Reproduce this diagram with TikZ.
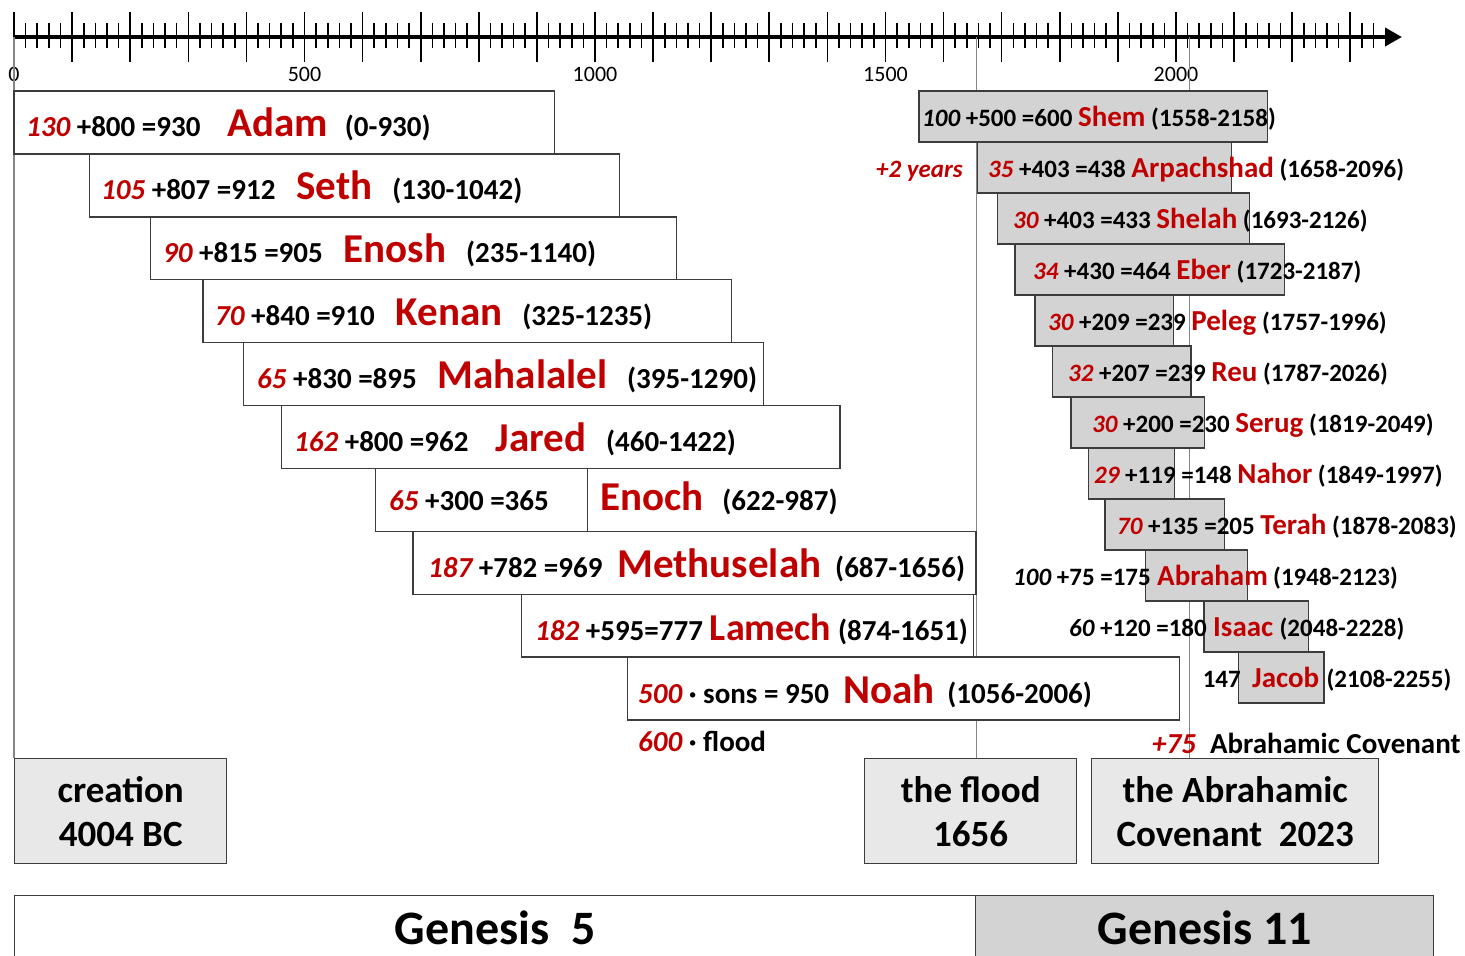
\documentclass[tikz,border=0pt]{standalone}
\usepackage{fontspec}
\setmainfont{Carlito}
\usetikzlibrary{arrows.meta,positioning}
\definecolor{gred}{HTML}{C00000}
\definecolor{boxline}{HTML}{3C3C3C}
\definecolor{lifegray}{HTML}{D3D3D3}
\definecolor{eventgray}{HTML}{E8E8E8}
\definecolor{markgray}{HTML}{858585}
\newcommand{\yr}[1]{14+0.581*#1}
\newcommand{\rn}[1]{{\color{gred}\itshape #1}}
\newcommand{\bn}[1]{{\itshape #1}}
\newcommand{\nmL}[1]{{\fontsize{41}{43}\selectfont\color{gred}#1}}
\newcommand{\nmR}[1]{{\fontsize{29}{31}\selectfont\color{gred}#1}}
\tikzset{life/.style={draw=boxline,line width=1.4pt,fill=white},
	lifeg/.style={life,fill=lifegray},
	txtL/.style={anchor=base west,inner sep=0pt,font=\bfseries\fontsize{29}{31}\selectfont},
	txtR/.style={anchor=base west,inner sep=0pt,font=\bfseries\fontsize{25}{27}\selectfont},
	event/.style={draw=boxline,line width=1.4pt,fill=eventgray,anchor=north west,
		align=center,minimum height=105pt,inner sep=0pt,font=\bfseries\fontsize{37}{44}\selectfont},
	genbar/.style={draw=boxline,line width=1.4pt,anchor=north west,minimum height=64pt,
		inner sep=0pt,font=\bfseries\fontsize{48}{50}\selectfont},
	marker/.style={draw=markgray,line width=1.2pt},
	yearlbl/.style={anchor=base,inner sep=0pt,font=\fontsize{22}{24}\selectfont}}

\begin{document}
\begin{tikzpicture}[x=1pt,y=-1pt]
	\useasboundingbox (0,0) rectangle (1465,956);

	\coordinate (axisstart) at (13,37);
	\coordinate (axisend) at (1402,37);
	\foreach \t in {0,20,...,2340}
		\draw[line width=1.6pt] ({\yr{\t}},23) -- ({\yr{\t}},48);
	\foreach \t in {0,100,...,2300}
		\draw[line width=1.6pt] ({\yr{\t}},12) -- ({\yr{\t}},62);
	\draw[line width=4pt,-{Triangle[length=17pt,width=18pt]}] (axisstart) -- (axisend);
	\foreach \t in {0,500,1000,1500,2000}
		\node[yearlbl] (lbl\t) at ({\yr{\t}},81) {\t};

	\coordinate (t0) at ({\yr{0}},37);
	\coordinate (t1656) at ({\yr{1656}},37);
	\coordinate (t2023) at ({\yr{2023}},37);

	\node[event,minimum width=212pt] (creation) at (14,758) {creation\\4004 BC};
	\node[event,minimum width=212pt] (flood) at (864,758) {the flood\\1656};
	\node[event,minimum width=287pt] (covenant) at (1091,758) {the Abrahamic\\Covenant\ \ 2023};

	\draw[marker] (t0) -- (t0 |- creation.north);
	\draw[marker] (t1656) -- (t1656 |- flood.north);
	\draw[marker] (t2023) -- (t2023 |- covenant.north);

	\foreach \a/\b/\i in {0/930/0,130/1042/1,235/1140/2,325/1235/3,395/1290/4,
		460/1422/5,622/987/6,687/1656/7,874/1651/8,1056/2006/9}
		\draw[life] ({\yr{\a}},{91+62.9*\i}) rectangle ({\yr{\b}},{91+62.9*(\i+1)});
	\foreach \a/\b/\i in {1558/2158/0,1658/2096/1,1693/2126/2,1723/2187/3,1757/1996/4,
		1787/2026/5,1819/2049/6,1849/1997/7,1878/2083/8,1948/2123/9,2048/2228/10,2108/2255/11}
		\draw[lifeg] ({\yr{\a}},{91+51*\i}) rectangle ({\yr{\b}},{91+51*(\i+1)});

	\node[txtL] (adam) at (26,136) {\rn{130} +800 =930\hspace{27pt}\nmL{Adam}\hspace{17pt}(0-930)};
	\node[txtL] (seth) at (101,199) {\rn{105} +807 =912\hspace{21pt}\nmL{Seth}\hspace{20pt}(130-1042)};
	\node[txtL] (enosh) at (163,262) {\rn{90} +815 =905\hspace{21pt}\nmL{Enosh}\hspace{20pt}(235-1140)};
	\node[txtL] (kenan) at (215,325) {\rn{70} +840 =910\hspace{21pt}\nmL{Kenan}\hspace{20pt}(325-1235)};
	\node[txtL] (mahalalel) at (257,388) {\rn{65} +830 =895\hspace{21pt}\nmL{Mahalalel}\hspace{20pt}(395-1290)};
	\node[txtL] (jared) at (294,451) {\rn{162} +800 =962\hspace{27pt}\nmL{Jared}\hspace{20pt}(460-1422)};
	\node[txtL] (enochnum) at (389,510) {\rn{65} +300 =365};
	\node[txtL] (enoch) at (600,510) {\nmL{Enoch}\hspace{19pt}(622-987)};
	\node[txtL] (methuselah) at (428,577) {\rn{187} +782 =969\hspace{15pt}\nmL{Methuselah}\hspace{14pt}(687-1656)};
	\node[txtL] (lamech) at (535,640) {\rn{182} +595=777\hspace{7pt}{\fontsize{38}{40}\selectfont\color{gred}Lamech}\hspace{7pt}(874-1651)};
	\node[txtL] (noah) at (638,703) {\rn{500} · sons = 950\hspace{14pt}\nmL{Noah}\hspace{13pt}(1056-2006)};
	\node[txtL] (floodnote) at (638,751) {\rn{600} · flood};

	\node[txtR] (shem) at (922,126) {\bn{100} +500 =600 \nmR{Shem} (1558-2158)};
	\node[txtR] (arpachshad) at (988,177) {\rn{35} +403 =438 \nmR{Arpachshad} (1658-2096)};
	\node[txtR, anchor=base east] (twoyears) at (963,177) {\rn{+2 years}};
	\node[txtR] (shelah) at (1013,228) {\rn{30} +403 =433 \nmR{Shelah} (1693-2126)};
	\node[txtR] (eber) at (1033,279) {\rn{34} +430 =464 \nmR{Eber} (1723-2187)};
	\node[txtR] (peleg) at (1048,330) {\rn{30} +209 =239 \nmR{Peleg} (1757-1996)};
	\node[txtR] (reu) at (1068,381) {\rn{32} +207 =239 \nmR{Reu} (1787-2026)};
	\node[txtR] (serug) at (1092,432) {\rn{30} +200 =230 \nmR{Serug} (1819-2049)};
	\node[txtR] (nahor) at (1094,483) {\rn{29} +119 =148 \nmR{Nahor} (1849-1997)};
	\node[txtR] (terah) at (1117,534) {\rn{70} +135 =205 \nmR{Terah} (1878-2083)};
	\node[txtR] (abraham) at (1157,585) {\nmR{Abraham}};
	\node[txtR, anchor=base east] (abrahamnum) at ([xshift=-6pt]abraham.base west) {\bn{100} +75 =175};
	\node[txtR] (abrahamyrs) at ([xshift=5pt]abraham.base east) {(1948-2123)};
	\node[txtR] (isaac) at (1213,636) {\nmR{Isaac}};
	\node[txtR, anchor=base east] (isaacnum) at ([xshift=-6pt]isaac.base west) {\bn{60} +120 =180};
	\node[txtR] (isaacyrs) at ([xshift=6pt]isaac.base east) {(2048-2228)};
	\node[txtR] (jacob) at (1252,687) {\nmR{Jacob}};
	\node[txtR, anchor=base east] (jacobnum) at ([xshift=-11pt]jacob.base west) {147};
	\node[txtR] (jacobyrs) at ([xshift=7pt]jacob.base east) {(2108-2255)};
	\node[txtL] (covnote) at (1152,753) {\rn{+75}\hspace{14pt}Abrahamic Covenant};

	\node[genbar,fill=white,minimum width=961pt] (gen5) at (14,895) {Genesis\ \ 5};
	\node[genbar,fill=lifegray,minimum width=458pt] (gen11) at (975,895) {Genesis 11};
\end{tikzpicture}
\end{document}
